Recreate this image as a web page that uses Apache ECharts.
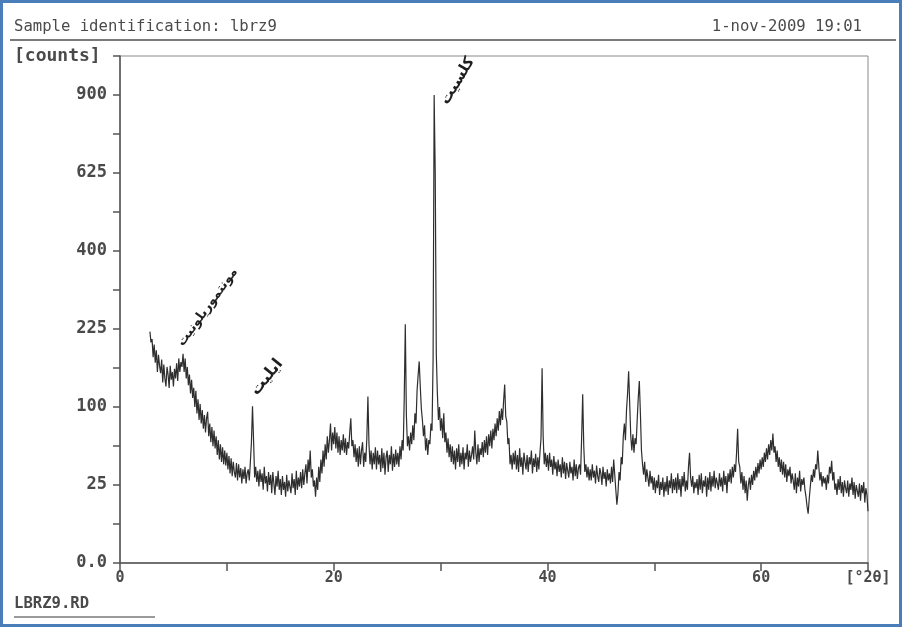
<!DOCTYPE html>
<html>
<head>
<meta charset="utf-8">
<script src="https://cdn.jsdelivr.net/npm/echarts@6/dist/echarts.min.js"></script>
<style>
  html, body { margin: 0; padding: 0; background: #fff; }
  #chart { width: 903px; height: 629px; }
</style>
</head>
<body>
<div id="chart"></div>
<script>
// scan: 2.8 .. 70.0 degrees 2theta, step 0.1
const START_ANGLE = 2.8;
const STEP = 0.1;
const counts = [
  220, 200,
  206, 174, 196, 165, 186, 150, 178, 160, 148, 170, // 3
  134, 162, 140, 128, 158, 146, 126, 160, 138, 150, // 4
  128, 155, 140, 164, 136, 172, 150, 166, 158, 180, // 5
  150, 172, 140, 158, 130, 146, 118, 138, 112, 126, // 6
  100, 122, 92, 110, 84, 104, 80, 96, 74, 90,       // 7
  70, 86, 94, 66, 80, 60, 76, 56, 72, 54,           // 8
  66, 48, 62, 44, 58, 42, 55, 40, 52, 39,           // 9
  50, 36, 47, 33, 45, 31, 42, 34, 30, 41,           // 10
  28, 40, 30, 37, 26, 36, 29, 38, 26, 33,           // 11
  36, 28, 42, 60, 101, 62, 30, 38, 27, 35,          // 12
  24, 36, 27, 33, 22, 38, 26, 31, 21, 34,           // 13
  25, 32, 20, 34, 26, 19, 31, 24, 35, 22,           // 14
  29, 19, 31, 22, 27, 18, 32, 21, 28, 24,           // 15
  20, 33, 23, 29, 19, 35, 22, 30, 24, 34,           // 16
  23, 36, 25, 33, 40, 26, 44, 34, 52, 30,           // 17
  36, 24, 28, 18, 30, 22, 38, 27, 44, 33,           // 18
  52, 38, 58, 44, 66, 50, 62, 80, 52, 70,           // 19
  58, 76, 54, 70, 50, 66, 48, 62, 52, 68,           // 20
  50, 64, 48, 60, 54, 70, 86, 56, 62, 46,           // 21
  58, 42, 54, 38, 56, 40, 52, 60, 38, 50,           // 22
  42, 64, 114, 58, 40, 52, 36, 50, 40, 55,          // 23
  36, 52, 40, 48, 34, 54, 37, 50, 32, 46,           // 24
  52, 34, 48, 40, 56, 35, 49, 38, 53, 40,           // 25
  50, 38, 56, 44, 62, 52, 112, 234, 90, 56,         // 26
  66, 52, 70, 58, 78, 62, 92, 80, 122, 145,         // 27
  167, 128, 98, 84, 66, 78, 52, 64, 48, 62,         // 28
  58, 80, 72, 170, 900, 625, 180, 118, 84, 100,     // 29
  72, 86, 64, 92, 60, 70, 50, 64, 46, 58,           // 30
  42, 56, 40, 52, 36, 54, 42, 58, 38, 50,           // 31
  40, 55, 36, 50, 44, 58, 38, 52, 42, 48,           // 32
  56, 44, 72, 50, 40, 58, 42, 54, 48, 60,           // 33
  46, 62, 50, 66, 48, 68, 56, 72, 54, 74,           // 34
  62, 80, 66, 86, 72, 95, 78, 98, 84, 108,          // 35
  131, 88, 82, 58, 64, 40, 48, 36, 50, 40,          // 36
  52, 36, 48, 34, 54, 38, 46, 32, 50, 42,           // 37
  36, 48, 34, 46, 40, 52, 33, 45, 38, 49,           // 38
  34, 46, 36, 50, 64, 156, 66, 40, 50, 38,          // 39
  48, 35, 50, 38, 44, 32, 47, 36, 42, 31,           // 40
  44, 34, 40, 30, 46, 33, 42, 29, 41, 35,           // 41
  30, 42, 33, 38, 28, 44, 31, 40, 29, 37,           // 42
  40, 32, 64, 117, 56, 34, 40, 30, 38, 28,          // 43
  36, 28, 40, 30, 35, 26, 39, 31, 27, 37,           // 44
  33, 25, 38, 29, 34, 24, 36, 28, 33, 26,           // 45
  38, 27, 44, 32, 22, 14, 20, 34, 28, 46,           // 46
  40, 66, 80, 62, 96, 118, 151, 104, 66, 52,        // 47
  68, 50, 64, 58, 84, 112, 136, 92, 52, 40,         // 48
  32, 42, 27, 36, 30, 24, 35, 26, 31, 22,           // 49
  30, 20, 28, 23, 32, 19, 27, 22, 30, 18,           // 50
  27, 21, 31, 19, 28, 23, 33, 20, 29, 22,           // 51
  30, 20, 33, 22, 29, 18, 31, 24, 34, 21,           // 52
  28, 22, 38, 50, 30, 24, 31, 20, 27, 23,           // 53
  29, 19, 32, 22, 33, 20, 28, 24, 31, 18,           // 54
  30, 22, 34, 21, 31, 24, 35, 23, 30, 26,           // 55
  22, 33, 24, 30, 21, 35, 25, 31, 20, 33,           // 56
  27, 36, 26, 38, 30, 40, 34, 50, 74, 42,           // 57
  38, 26, 34, 22, 31, 20, 28, 16, 25, 30,           // 58
  22, 32, 25, 35, 28, 38, 30, 41, 33, 44,           // 59
  36, 46, 38, 50, 42, 54, 44, 58, 48, 62,           // 60
  52, 69, 50, 56, 42, 52, 38, 46, 34, 44,           // 61
  32, 42, 30, 40, 27, 36, 31, 38, 26, 33,           // 62
  28, 22, 33, 20, 30, 24, 35, 21, 29, 25,           // 63
  30, 22, 18, 13, 10, 17, 24, 32, 27, 36,           // 64
  30, 40, 36, 52, 38, 28, 34, 24, 31, 26,           // 65
  30, 22, 32, 26, 38, 33, 43, 28, 34, 22,           // 66
  26, 19, 29, 22, 31, 20, 27, 18, 28, 23,           // 67
  20, 28, 18, 26, 22, 30, 19, 27, 17, 25,           // 68
  24, 18, 26, 16, 25, 20, 27, 15, 23, 19,           // 69
  11
];

// y axis is a square-root counts scale; ticks every 2.5 sqrt units, labels every 5
const yTickLabels = ['0.0', '25', '100', '225', '400', '625', '900'];
const xTickLabels = { 0: '0', 20: '20', 40: '40', 60: '60', 70: '[°2θ]' };

// peak names written on the scan
const peakNotes = [
  { text: 'مونتموریلونیت', angle: 8.2, root: 16.4, rotate: 54, size: 13 },
  { text: 'ایلیت', angle: 13.75, root: 11.9, rotate: 51, size: 16 },
  { text: 'کلسیت', angle: 31.6, root: 30.9, rotate: 59, size: 15 },
];

const MONO = '"DejaVu Sans Mono", "Liberation Mono", monospace';
const INK = '#4a4a4a';

const scan = counts.map((c, i) => [Math.round((START_ANGLE + i * STEP) * 10) / 10, Math.sqrt(c)]);

const chart = echarts.init(document.getElementById('chart'), null, { renderer: 'canvas' });

const option = {
  animation: false,
  backgroundColor: '#ffffff',
  grid: {
    left: 120, right: 35, top: 56, bottom: 66,
    show: true, borderColor: '#8a8a8a', borderWidth: 1,
  },
  xAxis: {
    type: 'value',
    min: 0, max: 70, interval: 10,
    axisLine: { onZero: false, lineStyle: { color: '#555', width: 1.5 } },
    axisTick: { show: true, inside: false, length: 8, lineStyle: { color: '#555', width: 1.5 } },
    splitLine: { show: false },
    axisLabel: {
      showMaxLabel: true, showMinLabel: true,
      margin: 8, color: INK, fontFamily: MONO, fontWeight: 'bold', fontSize: 15,
      formatter: (v) => (xTickLabels[v] !== undefined ? xTickLabels[v] : ''),
    },
  },
  yAxis: {
    type: 'value',
    min: 0, max: 32.5, interval: 2.5,
    axisLine: { show: true, onZero: false, lineStyle: { color: '#555', width: 1.5 } },
    axisTick: { show: true, inside: false, length: 7, lineStyle: { color: '#555', width: 1.5 } },
    splitLine: { show: false },
    axisLabel: {
      margin: 13, color: INK, fontFamily: MONO, fontWeight: 'bold', fontSize: 17,
      formatter: (v) => (v % 5 === 0 && yTickLabels[v / 5] !== undefined ? yTickLabels[v / 5] : ''),
    },
  },
  series: [
    {
      type: 'line',
      data: scan,
      showSymbol: false,
      sampling: false,
      silent: true,
      lineStyle: { color: '#2e2e2e', width: 1.2 },
      markPoint: {
        symbol: 'circle',
        symbolSize: 0,
        silent: true,
        label: {
          show: true, position: 'inside', color: '#1e1e1e', fontWeight: 'bold',
          fontFamily: '"DejaVu Sans", "Noto Sans", sans-serif',
        },
        data: peakNotes.map((n) => ({
          coord: [n.angle, n.root],
          label: { formatter: n.text, rotate: n.rotate, fontSize: n.size },
        })),
      },
    },
  ],
  graphic: [
    {
      type: 'rect', silent: true,
      shape: { x: 1.5, y: 1.5, width: 899, height: 624 },
      style: { fill: 'none', stroke: '#4a7ebb', lineWidth: 3 },
    },
    {
      type: 'text', left: 14, top: 19, silent: true,
      style: { text: 'Sample identification: lbrz9', fill: INK, font: '15.6px ' + MONO },
    },
    {
      type: 'text', right: 41, top: 19, silent: true,
      style: { text: '1-nov-2009 19:01', fill: INK, font: '15.6px ' + MONO },
    },
    {
      type: 'line', silent: true,
      shape: { x1: 10, y1: 40, x2: 896, y2: 40 },
      style: { stroke: '#7a7a7a', lineWidth: 2 },
    },
    {
      type: 'text', left: 14, top: 47, silent: true,
      style: { text: '[counts]', fill: INK, font: 'bold 18px ' + MONO },
    },
    {
      type: 'text', left: 14, top: 596, silent: true,
      style: { text: 'LBRZ9.RD', fill: INK, font: 'bold 15.6px ' + MONO },
    },
    {
      type: 'line', silent: true,
      shape: { x1: 14, y1: 617, x2: 155, y2: 617 },
      style: { stroke: '#7a7a7a', lineWidth: 1.5 },
    },
  ],
};

chart.setOption(option);
</script>
</body>
</html>
